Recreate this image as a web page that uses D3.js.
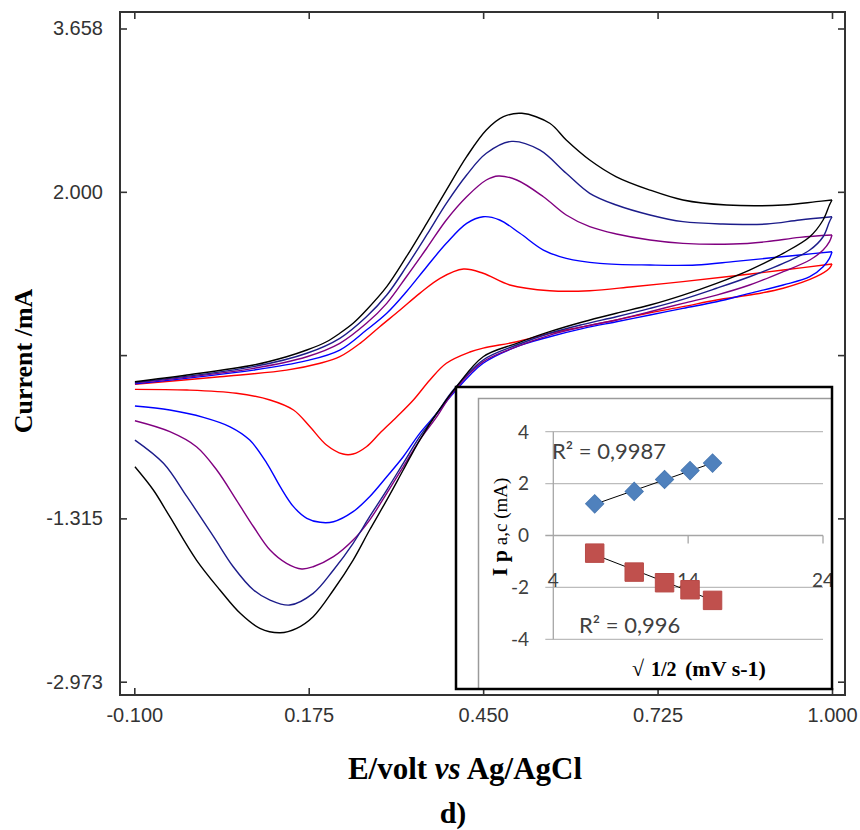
<!DOCTYPE html>
<html>
  <head>
    <meta charset="utf-8">
    <title>d) CV at different scan rates</title>
    <style>
      body { margin: 0; background: #fff; }
      svg { display: block; }
    </style>
  </head>
  <body>
    <div id="chart"></div>
    <script src="https://cdn.jsdelivr.net/npm/d3@7/dist/d3.min.js"></script>
    <script>

        // scan rates (mV/s) and the colour of each voltammogram
        var scanRates = [50, 100, 150, 200, 250];
        var lineColors = ['#ff0000', '#0000ff', '#800080', '#1c1c8a', '#000000'];

        // [E (V), I (mA)]; fwd = anodic sweep, rev = back sweep
        var fwd50 = [[-0.099,0.047],[0.035,0.123],[0.140,0.190],[0.193,0.260],[0.224,0.326],[0.256,0.462],[0.287,0.631],[0.319,0.800],[0.350,0.969],[0.382,1.122],[0.419,1.216],[0.450,1.173],[0.492,1.054],[0.555,0.996],[0.618,0.996],[0.686,1.037],[0.765,1.088],[0.844,1.145],[0.923,1.206],[1.000,1.267]];
        var rev50 = [[1.000,1.267],[0.996,1.224],[0.975,1.138],[0.923,1.021],[0.870,0.952],[0.818,0.902],[0.765,0.834],[0.713,0.773],[0.660,0.699],[0.608,0.631],[0.555,0.564],[0.503,0.478],[0.450,0.414],[0.429,0.374],[0.392,0.260],[0.366,0.090],[0.340,-0.113],[0.314,-0.283],[0.287,-0.452],[0.266,-0.588],[0.245,-0.662],[0.229,-0.662],[0.203,-0.570],[0.177,-0.385],[0.151,-0.215],[0.114,-0.113],[0.061,-0.045],[-0.017,-0.012],[-0.099,-0.005]];

        var fwd100 = [[-0.099,0.050],[0.088,0.190],[0.172,0.286],[0.224,0.394],[0.266,0.597],[0.298,0.767],[0.329,0.986],[0.361,1.240],[0.392,1.477],[0.424,1.680],[0.450,1.747],[0.476,1.714],[0.508,1.579],[0.545,1.409],[0.581,1.325],[0.634,1.274],[0.713,1.257],[0.786,1.257],[0.844,1.291],[0.897,1.325],[0.949,1.359],[1.000,1.392]];
        var rev100 = [[1.000,1.392],[0.996,1.325],[0.986,1.240],[0.965,1.138],[0.923,1.054],[0.870,0.969],[0.818,0.884],[0.765,0.817],[0.713,0.749],[0.660,0.681],[0.608,0.614],[0.555,0.529],[0.503,0.428],[0.450,0.260],[0.403,-0.045],[0.377,-0.248],[0.350,-0.452],[0.324,-0.689],[0.298,-0.892],[0.271,-1.095],[0.245,-1.247],[0.214,-1.349],[0.193,-1.355],[0.172,-1.314],[0.151,-1.196],[0.130,-0.993],[0.109,-0.756],[0.082,-0.520],[0.051,-0.385],[0.009,-0.289],[-0.044,-0.215],[-0.099,-0.174]];

        var fwd150 = [[-0.099,0.060],[0.088,0.208],[0.172,0.326],[0.224,0.462],[0.266,0.665],[0.298,0.868],[0.329,1.138],[0.361,1.427],[0.392,1.714],[0.424,1.950],[0.455,2.120],[0.474,2.161],[0.503,2.120],[0.545,1.950],[0.581,1.765],[0.618,1.646],[0.660,1.572],[0.713,1.511],[0.765,1.477],[0.844,1.470],[0.897,1.494],[0.949,1.538],[1.000,1.562]];
        var rev150 = [[1.000,1.562],[0.996,1.494],[0.986,1.409],[0.965,1.308],[0.923,1.189],[0.870,1.054],[0.818,0.952],[0.765,0.868],[0.713,0.783],[0.660,0.699],[0.608,0.631],[0.555,0.546],[0.503,0.428],[0.450,0.276],[0.403,-0.029],[0.377,-0.283],[0.350,-0.520],[0.324,-0.791],[0.298,-1.061],[0.271,-1.332],[0.245,-1.535],[0.214,-1.704],[0.182,-1.806],[0.164,-1.829],[0.140,-1.771],[0.114,-1.636],[0.088,-1.400],[0.061,-1.129],[0.030,-0.824],[-0.002,-0.588],[-0.044,-0.435],[-0.099,-0.324]];

        var fwd200 = [[-0.099,0.065],[0.088,0.225],[0.172,0.361],[0.224,0.513],[0.266,0.732],[0.298,0.952],[0.329,1.240],[0.361,1.562],[0.392,1.883],[0.424,2.171],[0.455,2.391],[0.495,2.512],[0.539,2.425],[0.581,2.188],[0.618,1.985],[0.660,1.866],[0.713,1.765],[0.765,1.697],[0.828,1.673],[0.897,1.673],[0.949,1.714],[1.000,1.747]];
        var rev200 = [[1.000,1.747],[0.996,1.697],[0.986,1.544],[0.965,1.409],[0.923,1.274],[0.870,1.138],[0.818,1.021],[0.765,0.909],[0.713,0.817],[0.660,0.732],[0.608,0.655],[0.555,0.564],[0.503,0.445],[0.450,0.293],[0.403,-0.012],[0.377,-0.248],[0.350,-0.486],[0.324,-0.756],[0.298,-1.027],[0.271,-1.298],[0.245,-1.568],[0.214,-1.839],[0.182,-2.076],[0.145,-2.195],[0.114,-2.144],[0.088,-2.042],[0.056,-1.806],[0.025,-1.501],[-0.017,-1.095],[-0.054,-0.756],[-0.099,-0.520]];

        var fwd250 = [[-0.099,0.072],[-0.017,0.140],[0.088,0.242],[0.140,0.326],[0.172,0.394],[0.203,0.478],[0.224,0.564],[0.245,0.665],[0.266,0.800],[0.298,1.037],[0.329,1.341],[0.361,1.680],[0.392,2.018],[0.424,2.357],[0.455,2.628],[0.482,2.763],[0.511,2.797],[0.555,2.696],[0.581,2.526],[0.618,2.323],[0.660,2.153],[0.713,2.018],[0.765,1.917],[0.834,1.866],[0.923,1.866],[0.975,1.900],[1.000,1.917]];
        var rev250 = [[1.000,1.917],[0.996,1.866],[0.986,1.714],[0.965,1.544],[0.923,1.376],[0.870,1.206],[0.818,1.071],[0.765,0.952],[0.713,0.851],[0.660,0.767],[0.608,0.681],[0.555,0.580],[0.503,0.462],[0.450,0.326],[0.408,0.022],[0.377,-0.248],[0.350,-0.520],[0.324,-0.824],[0.298,-1.129],[0.271,-1.433],[0.245,-1.738],[0.214,-2.042],[0.182,-2.313],[0.156,-2.431],[0.130,-2.476],[0.098,-2.431],[0.067,-2.279],[0.035,-2.042],[-0.002,-1.738],[-0.044,-1.298],[-0.070,-1.027],[-0.099,-0.791]];

        var xTicks = [-0.100, 0.175, 0.450, 0.725, 1.000];
        var yTicks = [3.658, 2.000, 0.3425, -1.315, -2.973];
        var yTickLabels = ['3.658', '2.000', '', '-1.315', '-2.973'];

        // inset: peak current vs square root of scan rate
        var sqrtRate = [7.07, 10.00, 12.25, 14.14, 15.81];
        var ipAnodic = [1.22, 1.70, 2.16, 2.50, 2.79];
        var ipCathodic = [-0.68, -1.41, -1.82, -2.09, -2.50];
        var r2Labels = ['R\u00b2 = 0,9987', 'R\u00b2 = 0,996'];
        var insetXTicks = [4, 14, 24];
        var insetYTicks = [4, 2, 0, -2, -4];

        var width = 860;
        var height = 830;
        var frame = {left: 120, top: 12, right: 845, bottom: 695};
        var tickFont = '"Liberation Sans", Arial, sans-serif';
        var serif = '"Liberation Serif", "Times New Roman", serif';

        var curves = [
          {rate: 50, fwd: fwd50, rev: rev50},
          {rate: 100, fwd: fwd100, rev: rev100},
          {rate: 150, fwd: fwd150, rev: rev150},
          {rate: 200, fwd: fwd200, rev: rev200},
          {rate: 250, fwd: fwd250, rev: rev250}
        ];

        var x = d3.scaleLinear().domain([-0.1, 1.0]).range([134.3, 832]);
        var y = d3.scaleLinear().domain([-2.973, 3.658]).range([681.7, 28.5]);

        var svg = d3.select('#chart')
          .append('svg')
          .attr('width', width)
          .attr('height', height);

        // curves
        var line = d3.line()
          .x(function(d) { return x(d[0]); })
          .y(function(d) { return y(d[1]); })
          .curve(d3.curveCatmullRom.alpha(0.5));

        curves.forEach(function(c) {
          var color = lineColors[scanRates.indexOf(c.rate)];
          [c.fwd, c.rev].forEach(function(branch) {
            svg.append('path')
              .attr('d', line(branch))
              .attr('fill', 'none')
              .attr('stroke', color)
              .attr('stroke-width', 1.4)
              .attr('stroke-linejoin', 'round');
          });
        });

        // axes with inward ticks on all four sides
        function styleAxis(g) {
          g.select('.domain').remove();
          g.selectAll('.tick line').attr('stroke', '#333').attr('stroke-width', 1.6);
          g.selectAll('.tick text')
            .attr('fill', '#333')
            .style('font-family', tickFont)
            .style('font-size', '20px');
        }

        svg.append('g')
          .attr('transform', 'translate(' + frame.left + ',0)')
          .call(d3.axisLeft(y).tickValues(yTicks).tickSize(-7).tickPadding(17)
            .tickFormat(function(d, i) { return yTickLabels[i]; }))
          .call(styleAxis);

        svg.append('g')
          .attr('transform', 'translate(' + frame.right + ',0)')
          .call(d3.axisRight(y).tickValues(yTicks).tickSize(-7).tickFormat(''))
          .call(styleAxis);

        svg.append('g')
          .attr('transform', 'translate(0,' + frame.bottom + ')')
          .call(d3.axisBottom(x).tickValues(xTicks).tickSize(-7).tickPadding(13)
            .tickFormat(function(d) { return d.toFixed(3); }))
          .call(styleAxis);

        svg.append('g')
          .attr('transform', 'translate(0,' + frame.top + ')')
          .call(d3.axisTop(x).tickValues(xTicks).tickSize(-7).tickFormat(''))
          .call(styleAxis);

        svg.append('rect')
          .attr('x', frame.left).attr('y', frame.top)
          .attr('width', frame.right - frame.left)
          .attr('height', frame.bottom - frame.top)
          .attr('fill', 'none')
          .attr('stroke', '#333')
          .attr('stroke-width', 2);

        // axis titles
        svg.append('text')
          .attr('transform', 'translate(32,361) rotate(-90)')
          .attr('text-anchor', 'middle')
          .style('font-family', serif)
          .style('font-weight', 'bold')
          .style('font-size', '26px')
          .text('Current /mA');

        var xTitle = svg.append('text')
          .attr('x', 465).attr('y', 779)
          .attr('text-anchor', 'middle')
          .style('font-family', serif)
          .style('font-weight', 'bold')
          .style('font-size', '31px');
        xTitle.append('tspan').text('E/volt ');
        xTitle.append('tspan').style('font-style', 'italic').text('vs');
        xTitle.append('tspan').text(' Ag/AgCl');

        svg.append('text')
          .attr('x', 453).attr('y', 823)
          .attr('text-anchor', 'middle')
          .style('font-family', serif)
          .style('font-weight', 'bold')
          .style('font-size', '30px')
          .text('d)');

        // ---- inset ----
        var box = {left: 456, top: 387, right: 832, bottom: 689};
        var xi = d3.scaleLinear().domain([4, 24]).range([553.3, 823]);
        var yi = d3.scaleLinear().domain([-4, 4]).range([639.3, 431.7]);
        var insetFont = 'Lato, "Open Sans", sans-serif';

        svg.append('clipPath').attr('id', 'insetClip')
          .append('rect')
          .attr('x', box.left).attr('y', box.top)
          .attr('width', box.right - box.left).attr('height', box.bottom - box.top);

        svg.append('rect')
          .attr('x', box.left).attr('y', box.top)
          .attr('width', box.right - box.left).attr('height', box.bottom - box.top)
          .attr('fill', '#fff');

        var ins = svg.append('g').attr('clip-path', 'url(#insetClip)');

        // plot-area border of the embedded chart (left and top edges only show)
        ins.append('path')
          .attr('d', 'M478.5,' + box.bottom + 'V398.5H' + box.right)
          .attr('fill', 'none')
          .attr('stroke', '#9a9a9a')
          .attr('stroke-width', 1.5);

        ins.selectAll('.grid')
          .data(insetYTicks)
          .enter()
          .append('line')
          .attr('x1', xi(4) - 8).attr('x2', xi(24))
          .attr('y1', function(d) { return yi(d); })
          .attr('y2', function(d) { return yi(d); })
          .attr('stroke', function(d) { return d === 0 ? '#a6a6a6' : '#bcbcbc'; })
          .attr('stroke-width', 1.3);

        ins.append('line')
          .attr('x1', xi(4)).attr('x2', xi(4))
          .attr('y1', yi(4)).attr('y2', yi(-4))
          .attr('stroke', '#a6a6a6')
          .attr('stroke-width', 1.3);

        ins.selectAll('.xtick')
          .data(insetXTicks.slice(1))
          .enter()
          .append('line')
          .attr('x1', function(d) { return xi(d); })
          .attr('x2', function(d) { return xi(d); })
          .attr('y1', yi(0)).attr('y2', yi(0) + 8)
          .attr('stroke', '#a6a6a6')
          .attr('stroke-width', 1.3);

        ins.selectAll('.ylab')
          .data(insetYTicks)
          .enter()
          .append('text')
          .attr('x', 529)
          .attr('y', function(d) { return yi(d); })
          .attr('dy', '0.36em')
          .attr('text-anchor', 'end')
          .attr('fill', '#404040')
          .style('font-family', insetFont)
          .style('font-size', '19px')
          .text(function(d) { return String(d); });

        ins.selectAll('.xlab')
          .data(insetXTicks)
          .enter()
          .append('text')
          .attr('x', function(d) { return xi(d); })
          .attr('y', yi(-2))
          .attr('text-anchor', 'middle')
          .attr('fill', '#404040')
          .style('font-family', insetFont)
          .style('font-size', '19px')
          .text(function(d) { return String(d); });

        // least-squares trendlines
        function fit(xs, ys) {
          var mx = d3.mean(xs), my = d3.mean(ys);
          var sxy = d3.sum(xs, function(v, i) { return (v - mx) * (ys[i] - my); });
          var sxx = d3.sum(xs, function(v) { return (v - mx) * (v - mx); });
          var b = sxy / sxx;
          return function(v) { return my + b * (v - mx); };
        }
        [ipAnodic, ipCathodic].forEach(function(ys) {
          var f = fit(sqrtRate, ys);
          var x0 = d3.min(sqrtRate), x1 = d3.max(sqrtRate);
          ins.append('line')
            .attr('x1', xi(x0)).attr('y1', yi(f(x0)))
            .attr('x2', xi(x1)).attr('y2', yi(f(x1)))
            .attr('stroke', '#000')
            .attr('stroke-width', 1);
        });

        var sq = d3.symbol().type(d3.symbolSquare);
        ins.selectAll('.ipa')
          .data(sqrtRate)
          .enter()
          .append('path')
          .attr('d', sq.size(165)())
          .attr('transform', function(d, i) {
            return 'translate(' + xi(d) + ',' + yi(ipAnodic[i]) + ') rotate(45)';
          })
          .attr('fill', '#4f81bd')
          .attr('stroke', '#4a7ab4')
          .attr('stroke-width', 1);

        ins.selectAll('.ipc')
          .data(sqrtRate)
          .enter()
          .append('path')
          .attr('d', sq.size(340)())
          .attr('transform', function(d, i) {
            return 'translate(' + xi(d) + ',' + yi(ipCathodic[i]) + ')';
          })
          .attr('fill', '#c0504d')
          .attr('stroke', '#b84a47')
          .attr('stroke-width', 1);

        ins.append('text')
          .attr('x', 552).attr('y', 459)
          .attr('fill', '#404040')
          .style('font-family', insetFont)
          .style('font-size', '22px')
          .text(r2Labels[0]);

        ins.append('text')
          .attr('x', 579).attr('y', 633)
          .attr('fill', '#404040')
          .style('font-family', insetFont)
          .style('font-size', '22px')
          .text(r2Labels[1]);

        var iTitle = ins.append('text')
          .attr('transform', 'translate(507,527) rotate(-90)')
          .attr('text-anchor', 'middle')
          .style('font-family', serif);
        iTitle.append('tspan').style('font-weight', 'bold').style('font-size', '22px').text('I p');
        iTitle.append('tspan').style('font-size', '19px').text(' a,c (mA)');

        var vTitle = ins.append('text')
          .attr('y', 676)
          .style('font-family', serif);
        vTitle.append('tspan').attr('x', 632).style('font-size', '22px').text('\u221a');
        vTitle.append('tspan').attr('x', 651).style('font-weight', 'bold').style('font-size', '20px').text('1/2');
        vTitle.append('tspan').attr('x', 685).style('font-weight', 'bold').style('font-size', '22px').text('(mV s-1)');

        svg.append('rect')
          .attr('x', box.left).attr('y', box.top)
          .attr('width', box.right - box.left).attr('height', box.bottom - box.top)
          .attr('fill', 'none')
          .attr('stroke', '#000')
          .attr('stroke-width', 2.5);

    </script>
  </body>
</html>
